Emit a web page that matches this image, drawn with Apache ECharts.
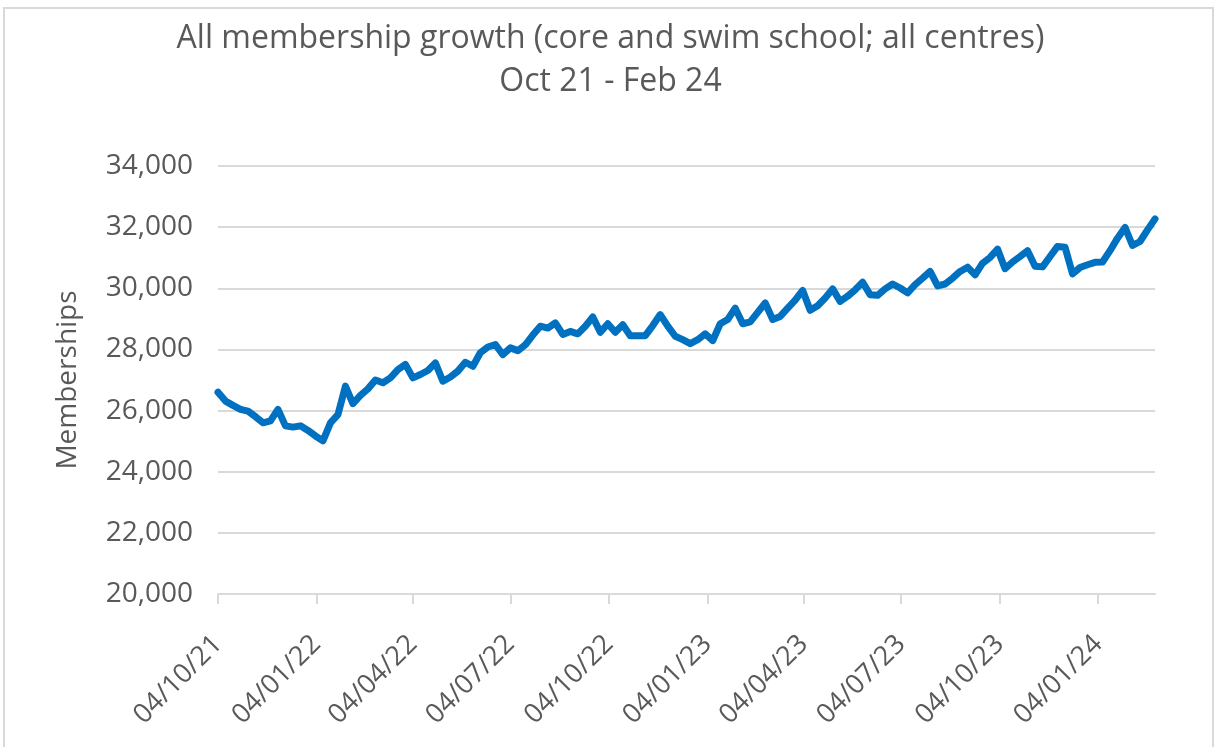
<!DOCTYPE html>
<html>
<head>
<meta charset="utf-8">
<script src="https://cdn.jsdelivr.net/npm/echarts@6/dist/echarts.min.js"></script>
<style>
  html, body { margin: 0; padding: 0; background: #fff; }
  #chart { width: 1221px; height: 747px; }
</style>
</head>
<body>
<div id="chart"></div>
<script>
// weekly snapshots, first one on 04/10/21
var startDate = [2021, 9, 4];
var memberships = [
  26600, 26310, 26170, 26040, 25980, 25800, 25600, 25660, 26040, 25500,
  25460, 25500, 25350, 25170, 25010, 25600, 25870, 26800, 26230, 26500,
  26710, 27000, 26910, 27070, 27340, 27510, 27070, 27180, 27310, 27560,
  26960, 27100, 27290, 27580, 27450, 27890, 28080, 28160, 27830, 28050,
  27960, 28150, 28470, 28760, 28700, 28870, 28490, 28590, 28510, 28760,
  29060, 28560, 28840, 28560, 28810, 28450, 28450, 28450, 28780, 29140,
  28760, 28430, 28320, 28190, 28320, 28510, 28290, 28840, 28980, 29350,
  28840, 28900, 29210, 29520, 28980, 29080, 29350, 29610, 29930, 29280,
  29430, 29680, 29980, 29570, 29740, 29950, 30200, 29790, 29770, 29980,
  30140, 30010, 29850, 30120, 30330, 30550, 30080, 30140, 30330, 30550,
  30690, 30440, 30820, 31010, 31280, 30640, 30860, 31040, 31230, 30720,
  30700, 31040, 31370, 31340, 30470, 30680, 30770, 30850, 30860, 31230,
  31640, 31990, 31400, 31530, 31910, 32270
];
var tickDates = [
  [2021, 9, 4], [2022, 0, 4], [2022, 3, 4], [2022, 6, 4], [2022, 9, 4],
  [2023, 0, 4], [2023, 3, 4], [2023, 6, 4], [2023, 9, 4], [2024, 0, 4]
];
var yTicks = [20000, 34000, 2000];

function toTime(d) { return new Date(d[0], d[1], d[2]).getTime(); }
function pad(n) { return (n < 10 ? '0' : '') + n; }

var seriesData = memberships.map(function (v, i) {
  var d = new Date(startDate[0], startDate[1], startDate[2] + 7 * i);
  return [d.getTime(), v];
});
var tickValues = tickDates.map(toTime);

var font = 'Open Sans';
var grey = '#595959';
var gridGrey = '#d9d9d9';

var myChart = echarts.init(document.getElementById('chart'));
myChart.setOption({
  animation: false,
  backgroundColor: '#fff',
  graphic: [{
    type: 'rect',
    shape: { x: 4, y: 8, width: 1209, height: 760 },
    style: { fill: 'none', stroke: gridGrey, lineWidth: 2 },
    silent: true
  }],
  title: {
    text: 'All membership growth (core and swim school; all centres)\nOct 21 - Feb 24',
    left: 'center',
    top: 12,
    textStyle: {
      fontFamily: font,
      fontSize: 32,
      fontWeight: 'normal',
      color: grey,
      lineHeight: 43
    }
  },
  grid: { left: 218, right: 66, top: 166, bottom: 153 },
  xAxis: {
    type: 'value',
    min: seriesData[0][0],
    max: seriesData[seriesData.length - 1][0],
    axisLine: { show: true, lineStyle: { color: gridGrey, width: 2 } },
    axisTick: {
      show: true,
      length: 10,
      customValues: tickValues,
      lineStyle: { color: gridGrey, width: 2 }
    },
    splitLine: { show: false },
    axisLabel: {
      customValues: tickValues,
      rotate: 45,
      margin: 46,
      fontFamily: font,
      fontSize: 27,
      color: grey,
      formatter: function (val) {
        var d = new Date(val);
        return pad(d.getDate()) + '/' + pad(d.getMonth() + 1) + '/' + pad(d.getFullYear() % 100);
      }
    }
  },
  yAxis: {
    type: 'value',
    min: yTicks[0],
    max: yTicks[1],
    interval: yTicks[2],
    name: 'Memberships',
    nameLocation: 'middle',
    nameGap: 136,
    nameTextStyle: { fontFamily: font, fontSize: 28, color: grey },
    axisLine: { show: false },
    axisTick: { show: false },
    splitLine: { show: true, lineStyle: { color: gridGrey, width: 2 } },
    axisLabel: {
      margin: 25,
      fontFamily: font,
      fontSize: 28,
      color: grey,
      formatter: function (v) { return v.toLocaleString('en-GB'); }
    }
  },
  series: [{
    name: 'Memberships',
    type: 'line',
    data: seriesData,
    showSymbol: false,
    symbol: 'none',
    lineStyle: { color: '#0070c0', width: 7, join: 'round', cap: 'round' },
    itemStyle: { color: '#0070c0' }
  }]
});
</script>
</body>
</html>
